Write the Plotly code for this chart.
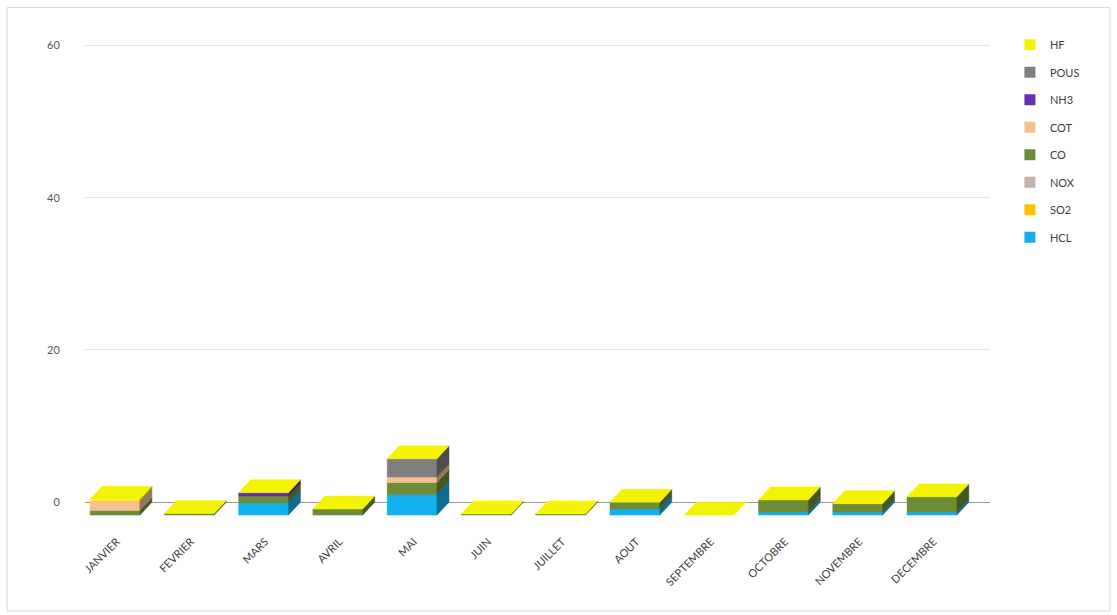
import plotly.graph_objects as go

# Monthly emissions per pollutant, stacked from bottom (HCL) to top (HF)
months = ["JANVIER", "FEVRIER", "MARS", "AVRIL", "MAI", "JUIN",
          "JUILLET", "AOUT", "SEPTEMBRE", "OCTOBRE", "NOVEMBRE", "DECEMBRE"]
HCL = [0, 0, 1.6, 0, 2.7, 0, 0, 0.8, 0, 0.4, 0.4, 0.4]
SO2 = [0, 0, 0, 0, 0, 0, 0, 0, 0, 0, 0, 0]
NOX = [0, 0, 0, 0, 0, 0, 0, 0, 0, 0, 0, 0]
CO = [0.6, 0.2, 0.9, 0.8, 1.6, 0.15, 0.15, 0.9, 0, 1.6, 1.1, 2.0]
COT = [1.3, 0, 0, 0, 0.7, 0, 0, 0, 0, 0, 0, 0]
NH3 = [0, 0, 0.45, 0, 0, 0, 0, 0, 0, 0, 0, 0]
POUS = [0, 0, 0, 0, 2.4, 0, 0, 0, 0, 0, 0, 0]
HF = [0.2, 0, 0, 0, 0, 0, 0, 0, 0, 0, 0, 0]

series_names = ["HCL", "SO2", "NOX", "CO", "COT", "NH3", "POUS", "HF"]
series_values = [HCL, SO2, NOX, CO, COT, NH3, POUS, HF]
series_colors = ["#12b0ee", "#ffc000", "#c2b4aa", "#6e8c38",
                 "#f3c08f", "#6530b0", "#7f7f7f", "#f4f400"]

# 3D box geometry (category units / value units)
BAR_W = 0.67
DEPTH_X = 0.162
DEPTH_Y = 1.7


def shade(hex_color, f):
    h = hex_color.lstrip("#")
    r, g, b = (int(h[i:i + 2], 16) for i in (0, 2, 4))
    return "rgb({},{},{})".format(int(r * f), int(g * f), int(b * f))


fig = go.Figure()
base = [0.0] * len(months)
last = len(series_names) - 1

for k, (name, vals, col) in enumerate(zip(series_names, series_values, series_colors)):
    fx, fy, sx, sy, tx, ty = [], [], [], [], [], []
    for i, v in enumerate(vals):
        b = base[i]
        t = b + v
        x0 = i - DEPTH_X - BAR_W / 2
        x1 = x0 + BAR_W
        if v > 0:
            fx += [x0, x1, x1, x0, x0, None]
            fy += [b - DEPTH_Y, b - DEPTH_Y, t - DEPTH_Y, t - DEPTH_Y, b - DEPTH_Y, None]
            sx += [x1, x1 + DEPTH_X, x1 + DEPTH_X, x1, x1, None]
            sy += [b - DEPTH_Y, b, t, t - DEPTH_Y, b - DEPTH_Y, None]
        # only the top of the whole stack is visible
        if k == last:
            tx += [x0, x1, x1 + DEPTH_X, x0 + DEPTH_X, x0, None]
            ty += [t - DEPTH_Y, t - DEPTH_Y, t, t, t - DEPTH_Y, None]
        base[i] = t
    for px, py, c in ((fx, fy, col), (sx, sy, shade(col, 0.62)), (tx, ty, col)):
        if px:
            fig.add_trace(go.Scatter(
                x=px, y=py, mode="lines", fill="toself", fillcolor=c,
                line=dict(color=c, width=0.5), hoverinfo="skip",
                showlegend=False))

# Legend entries (top to bottom as in the stack)
for name, col in zip(series_names[::-1], series_colors[::-1]):
    fig.add_trace(go.Scatter(
        x=[None], y=[None], mode="markers", name=name, legendgroup=name,
        marker=dict(symbol="square", size=11, color=col)))

fig.update_layout(
    width=1117, height=615,
    margin=dict(l=85, r=127, t=37.5, b=90),
    paper_bgcolor="white", plot_bgcolor="white",
    font=dict(family="Lato, 'Open Sans', sans-serif", color="#404040"),
    showlegend=True,
    legend=dict(x=1.022, y=1.016, xanchor="left", yanchor="top",
                font=dict(size=11, color="#404040"),
                tracegroupgap=8.5, traceorder="grouped",
                bgcolor="rgba(0,0,0,0)"),
    shapes=[dict(type="rect", xref="paper", yref="paper",
                 x0=-0.086, x1=1.1326, y0=-0.1764, y1=1.0626,
                 line=dict(color="#d9d9d9", width=1), layer="below")],
)

fig.update_xaxes(
    range=[-0.566, 11.62],
    tickvals=[i - 0.14 for i in range(len(months))], ticktext=months,
    tickangle=-45, tickfont=dict(size=11, color="#404040"),
    showgrid=False, zeroline=False, showline=False,
    ticks="outside", ticklen=5, tickcolor="rgba(0,0,0,0)")

fig.update_yaxes(
    range=[-3, 61], tickvals=[0, 20, 40, 60],
    tickfont=dict(size=11, color="#595959"),
    showgrid=True, gridcolor="#e3e3e3", gridwidth=1,
    zeroline=True, zerolinecolor="#9a9a9a", zerolinewidth=1,
    showline=False, ticks="outside", ticklen=22, tickcolor="rgba(0,0,0,0)")

fig.write_html("out.html")
